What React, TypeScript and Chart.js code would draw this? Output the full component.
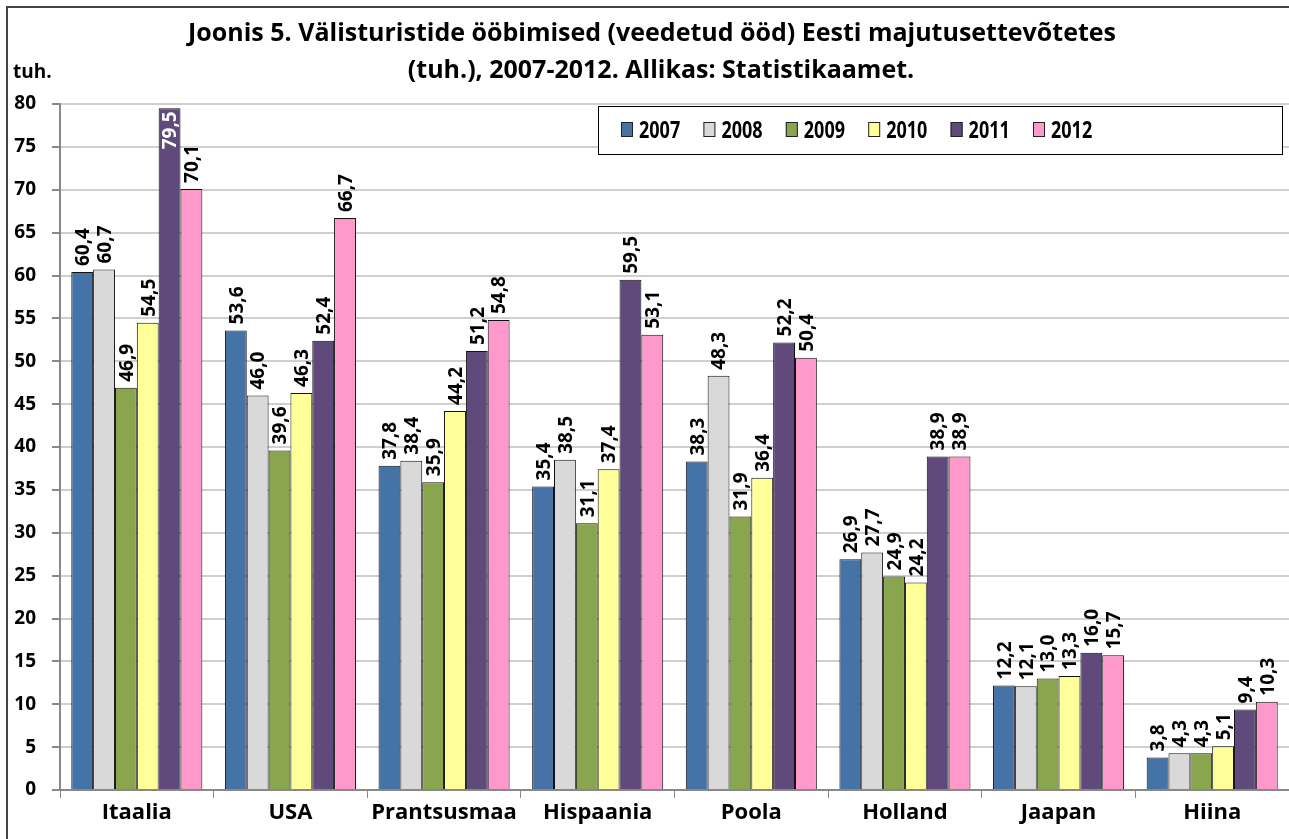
import React, { useEffect, useRef } from "react";
import { Chart, registerables } from "chart.js";

Chart.register(...registerables);

const categories = ["Itaalia", "USA", "Prantsusmaa", "Hispaania", "Poola", "Holland", "Jaapan", "Hiina"];
const years = ["2007", "2008", "2009", "2010", "2011", "2012"];
const v2007 = [60.4, 53.6, 37.8, 35.4, 38.3, 26.9, 12.2, 3.8];
const v2008 = [60.7, 46.0, 38.4, 38.5, 48.3, 27.7, 12.1, 4.3];
const v2009 = [46.9, 39.6, 35.9, 31.1, 31.9, 24.9, 13.0, 4.3];
const v2010 = [54.5, 46.3, 44.2, 37.4, 36.4, 24.2, 13.3, 5.1];
const v2011 = [79.5, 52.4, 51.2, 59.5, 52.2, 38.9, 16.0, 9.4];
const v2012 = [70.1, 66.7, 54.8, 53.1, 50.4, 38.9, 15.7, 10.3];
const seriesValues = [v2007, v2008, v2009, v2010, v2011, v2012];
const colors = ["#4572A7", "#D9D9D9", "#89A54E", "#FFFF99", "#604A7B", "#FF99CC"];

const titleLine1 = "Joonis 5. Välisturistide ööbimised (veedetud ööd) Eesti majutusettevõtetes";
const titleLine2 = "(tuh.), 2007-2012. Allikas: Statistikaamet.";
const unitLabel = "tuh.";

const FONT = "'Open Sans', 'Noto Sans', sans-serif";

const fmt = (v: number) => v.toFixed(1).replace(".", ",");

const decorPlugin = {
  id: "decor",
  afterDraw(chart: any) {
    const ctx = chart.ctx as CanvasRenderingContext2D;
    const area = chart.chartArea;
    ctx.save();
    // frame
    ctx.strokeStyle = "#444";
    ctx.lineWidth = 2;
    ctx.beginPath();
    ctx.moveTo(7, 839);
    ctx.lineTo(7, 7);
    ctx.lineTo(1289, 7);
    ctx.stroke();

    // title
    ctx.fillStyle = "#000";
    ctx.textBaseline = "alphabetic";
    ctx.font = `bold 25px ${FONT}`;
    ctx.textAlign = "center";
    ctx.fillText(titleLine1, 652, 41);
    ctx.fillText(titleLine2, 661, 78);
    ctx.textAlign = "left";
    ctx.font = `bold 19px ${FONT}`;
    ctx.fillText(unitLabel, 13, 78);

    // data labels
    ctx.font = `bold 19px ${FONT}`;
    const capH = 13.6;
    chart.data.datasets.forEach((ds: any, di: number) => {
      const meta = chart.getDatasetMeta(di);
      meta.data.forEach((bar: any, i: number) => {
        const txt = fmt(ds.data[i]);
        const w = ctx.measureText(txt).width;
        const y = bar.y - 6;
        const inside = y - w < area.top;
        ctx.save();
        if (inside) {
          ctx.translate(bar.x + capH / 2, bar.y + 3);
          ctx.rotate(-Math.PI / 2);
          ctx.textAlign = "right";
          ctx.fillStyle = "#fff";
        } else {
          ctx.translate(bar.x + capH / 2, y);
          ctx.rotate(-Math.PI / 2);
          ctx.textAlign = "left";
          ctx.fillStyle = "#000";
        }
        ctx.textBaseline = "alphabetic";
        ctx.fillText(txt, 0, 0);
        ctx.restore();
      });
    });

    // legend
    ctx.fillStyle = "#fff";
    ctx.fillRect(598.5, 106.5, 684, 48);
    ctx.strokeStyle = "#000";
    ctx.lineWidth = 1;
    ctx.strokeRect(598.5, 106.5, 684, 48);
    ctx.font = `bold 24px ${FONT}`;
    chart.data.datasets.forEach((ds: any, di: number) => {
      const x = 621 + di * 82.4;
      ctx.fillStyle = ds.backgroundColor;
      ctx.fillRect(x, 122, 12, 15);
      ctx.strokeStyle = "#222";
      ctx.strokeRect(x + 0.5, 122.5, 11, 14);
      ctx.save();
      ctx.translate(x + 18, 138);
      ctx.scale(0.75, 1);
      ctx.fillStyle = "#000";
      ctx.textAlign = "left";
      ctx.fillText(ds.label, 0, 0);
      ctx.restore();
    });
    ctx.restore();
  },
};

export default function App() {
  const ref = useRef<HTMLCanvasElement | null>(null);
  useEffect(() => {
    document.body.style.margin = "0";
    const canvas = ref.current!;
    const chart = new Chart(canvas, {
      type: "bar",
      data: {
        labels: categories,
        datasets: years.map((y, i) => ({
          label: y,
          data: seriesValues[i],
          backgroundColor: colors[i],
          borderColor: "#111",
          borderWidth: 1,
          barPercentage: 1,
          categoryPercentage: 0.853,
        })),
      },
      options: {
        responsive: false,
        animation: false,
        devicePixelRatio: 1,
        events: [],
        layout: { padding: { left: 0, top: 104, right: 0, bottom: 0 } },
        plugins: {
          legend: { display: false },
          title: { display: false },
          tooltip: { enabled: false },
        },
        scales: {
          x: {
            grid: {
              offset: true,
              drawOnChartArea: false,
              drawTicks: true,
              tickLength: 8,
              color: "#888",
              lineWidth: 1,
            },
            border: { color: "#888", width: 2 },
            ticks: {
              color: "#000",
              font: { family: FONT, size: 22, weight: "bold" },
              padding: 2,
              maxRotation: 0,
              autoSkip: false,
            },
            afterFit(scale: any) {
              scale.height = 49;
            },
          },
          y: {
            min: 0,
            max: 80,
            ticks: {
              stepSize: 5,
              color: "#000",
              font: { family: FONT, size: 19, weight: "bold" },
              padding: 16,
            },
            grid: {
              color: "#cfcfcf",
              lineWidth: 2,
              tickLength: 8,
              tickColor: "#888",
            },
            border: { color: "#888", width: 2 },
            afterFit(scale: any) {
              scale.width = 60;
            },
          },
        },
      },
      plugins: [decorPlugin],
    });
    return () => chart.destroy();
  }, []);
  return (
    <div style={{ width: 1289, height: 839, position: "relative" }}>
      <canvas ref={ref} width={1289} height={839} style={{ display: "block" }} />
    </div>
  );
}
